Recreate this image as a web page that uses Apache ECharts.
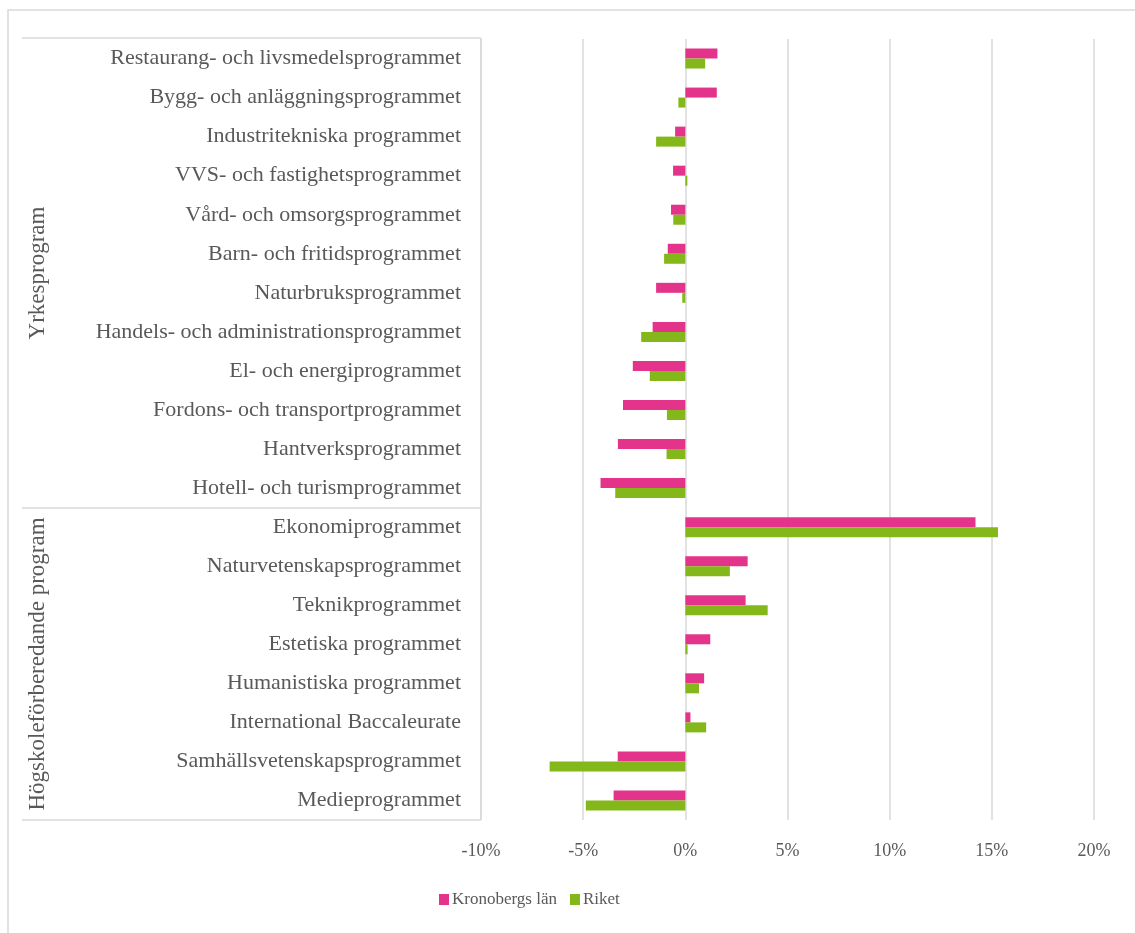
<!DOCTYPE html>
<html>
<head>
<meta charset="utf-8">
<script src="https://cdn.jsdelivr.net/npm/echarts@6/dist/echarts.min.js"></script>
<style>
  html, body { margin: 0; padding: 0; background: #fff; }
  #chartBox { width: 1135px; height: 933px; }
</style>
</head>
<body>
<div id="chartBox"></div>
<script>
// kategorier, uppifrån och ned
var categories = [
  "Restaurang- och livsmedelsprogrammet",
  "Bygg- och anläggningsprogrammet",
  "Industritekniska programmet",
  "VVS- och fastighetsprogrammet",
  "Vård- och omsorgsprogrammet",
  "Barn- och fritidsprogrammet",
  "Naturbruksprogrammet",
  "Handels- och administrationsprogrammet",
  "El- och energiprogrammet",
  "Fordons- och transportprogrammet",
  "Hantverksprogrammet",
  "Hotell- och turismprogrammet",
  "Ekonomiprogrammet",
  "Naturvetenskapsprogrammet",
  "Teknikprogrammet",
  "Estetiska programmet",
  "Humanistiska programmet",
  "International Baccaleurate",
  "Samhällsvetenskapsprogrammet",
  "Medieprogrammet"
];
var groups = ["Yrkesprogram", "Högskoleförberedande program"];

// förändring i procent
var kronoberg = [1.57, 1.54, -0.5, -0.6, -0.7, -0.86, -1.43, -1.6, -2.57, -3.05, -3.3, -4.15,
  14.2, 3.05, 2.95, 1.22, 0.92, 0.25, -3.31, -3.51];
var riket = [0.97, -0.34, -1.43, 0.1, -0.59, -1.04, -0.15, -2.16, -1.74, -0.9, -0.92, -3.43,
  15.3, 2.18, 4.03, 0.11, 0.67, 1.02, -6.64, -4.87];

var xTicks = { min: -10, max: 20, interval: 5 };

var font = "'Liberation Serif', 'DejaVu Serif', serif";
var textColor = "#595959";
var lineColor = "#d9d9d9";

var chartBox = echarts.init(document.getElementById("chartBox"));

var options = {
  backgroundColor: "#FFFFFF",
  animation: false,
  textStyle: { fontFamily: font },
  grid: {
    left: 481,
    right: 41,
    top: 39,
    bottom: 113,
    containLabel: false
  },
  legend: {
    left: 439,
    top: 891,
    padding: 0,
    itemWidth: 10,
    itemHeight: 11,
    itemGap: 13,
    icon: "rect",
    textStyle: { color: textColor, fontSize: 17, fontFamily: font, padding: [0, 0, 0, -2] },
    data: ["Kronobergs län", "Riket"]
  },
  xAxis: {
    type: "value",
    min: xTicks.min,
    max: xTicks.max,
    interval: xTicks.interval,
    axisLine: { show: false },
    axisTick: { show: false },
    splitLine: { lineStyle: { color: lineColor, width: 1.5 } },
    axisLabel: {
      color: textColor,
      fontSize: 18,
      fontFamily: font,
      margin: 22,
      formatter: "{value}%"
    }
  },
  yAxis: {
    type: "category",
    inverse: true,
    data: categories,
    axisLine: { show: false },
    axisTick: { show: false },
    axisLabel: {
      color: textColor,
      fontSize: 22,
      fontFamily: font,
      margin: 20
    }
  },
  series: [
    {
      name: "Kronobergs län",
      type: "bar",
      barWidth: 10,
      barGap: "0%",
      itemStyle: { color: "#E3338A" },
      data: kronoberg
    },
    {
      name: "Riket",
      type: "bar",
      barWidth: 10,
      barGap: "0%",
      itemStyle: { color: "#84B71A" },
      data: riket
    }
  ],
  graphic: [
    // yttre ram
    { type: "rect", shape: { x: 8, y: 10, width: 1140, height: 960 }, style: { fill: "none", stroke: lineColor, lineWidth: 1.5 }, silent: true },
    // tabellens linjer runt kategorierna
    { type: "line", shape: { x1: 22, y1: 38, x2: 481, y2: 38 }, style: { stroke: lineColor, lineWidth: 1.5 } },
    { type: "line", shape: { x1: 22, y1: 508, x2: 481, y2: 508 }, style: { stroke: lineColor, lineWidth: 1.5 } },
    { type: "line", shape: { x1: 22, y1: 820, x2: 481, y2: 820 }, style: { stroke: lineColor, lineWidth: 1.5 } },
    { type: "line", shape: { x1: 481, y1: 38, x2: 481, y2: 820 }, style: { stroke: lineColor, lineWidth: 1.5 } },
    {
      type: "text",
      x: 38, y: 273,
      rotation: Math.PI / 2,
      style: { text: groups[0], fill: textColor, font: "23px " + font, align: "center", verticalAlign: "middle" }
    },
    {
      type: "text",
      x: 38, y: 664,
      rotation: Math.PI / 2,
      style: { text: groups[1], fill: textColor, font: "23px " + font, align: "center", verticalAlign: "middle" }
    }
  ]
};

chartBox.setOption(options);
</script>
</body>
</html>
